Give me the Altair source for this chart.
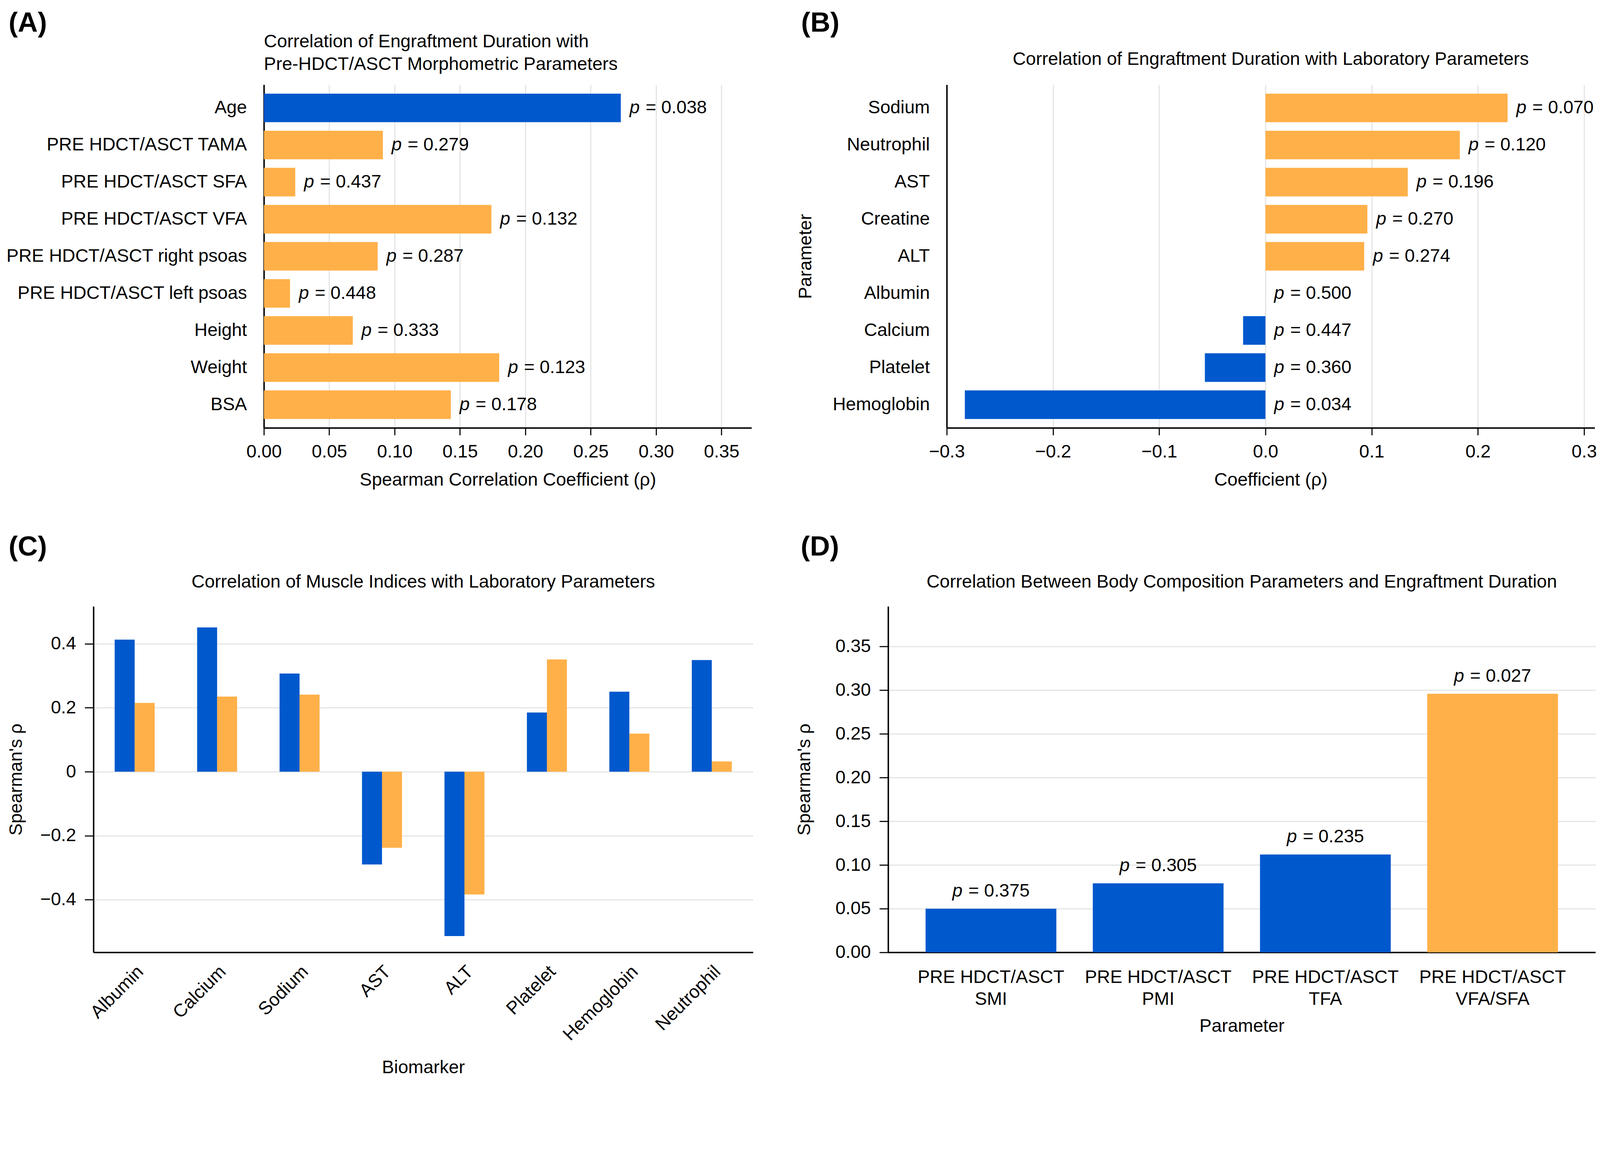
import altair as alt
import pandas as pd

FONT = "Liberation Sans"
BLUE = "#0058CD"
ORANGE = "#FFB049"
GRID = "#E3E3E3"
FS = 50

# ---------------- data ----------------
a_params = ["Age", "PRE HDCT/ASCT TAMA", "PRE HDCT/ASCT SFA", "PRE HDCT/ASCT VFA",
            "PRE HDCT/ASCT right psoas", "PRE HDCT/ASCT left psoas", "Height", "Weight", "BSA"]
a_rho = [0.273, 0.091, 0.024, 0.174, 0.087, 0.020, 0.068, 0.180, 0.143]
a_p = [0.038, 0.279, 0.437, 0.132, 0.287, 0.448, 0.333, 0.123, 0.178]

b_params = ["Sodium", "Neutrophil", "AST", "Creatine", "ALT", "Albumin", "Calcium", "Platelet", "Hemoglobin"]
b_rho = [0.228, 0.183, 0.134, 0.096, 0.093, 0.0, -0.021, -0.057, -0.283]
b_p = [0.070, 0.120, 0.196, 0.270, 0.274, 0.500, 0.447, 0.360, 0.034]

c_markers = ["Albumin", "Calcium", "Sodium", "AST", "ALT", "Platelet", "Hemoglobin", "Neutrophil"]
c_series = ["SMI", "PMI"]
c_smi = [0.413, 0.451, 0.307, -0.290, -0.514, 0.185, 0.250, 0.349]
c_pmi = [0.215, 0.235, 0.241, -0.238, -0.384, 0.351, 0.119, 0.032]

d_params = ["PRE HDCT/ASCT SMI", "PRE HDCT/ASCT PMI", "PRE HDCT/ASCT TFA", "PRE HDCT/ASCT VFA/SFA"]
d_rho = [0.050, 0.079, 0.112, 0.296]
d_p = [0.375, 0.305, 0.235, 0.027]

a_ticks = [0.0, 0.05, 0.10, 0.15, 0.20, 0.25, 0.30, 0.35]
b_ticks = [-0.3, -0.2, -0.1, 0.0, 0.1, 0.2, 0.3]
c_ticks = [-0.4, -0.2, 0.0, 0.2, 0.4]
d_ticks = [0.0, 0.05, 0.10, 0.15, 0.20, 0.25, 0.30, 0.35]

# ---------------- helpers ----------------
TXT = dict(labelFont=FONT, labelFontSize=FS, labelColor="black",
           titleFont=FONT, titleFontSize=FS, titleFontWeight="normal", titleColor="black",
           labelLimit=1500, labelOverlap=False, labelFlush=False, maxExtent=1500)


def text_at(txt, x, y, size=FS, weight="normal", align="left", baseline="middle"):
    return alt.Chart(pd.DataFrame({"t": [txt]})).mark_text(
        font=FONT, fontSize=size, fontWeight=weight, align=align, baseline=baseline, color="black"
    ).encode(text="t:N", x=alt.value(x), y=alt.value(y))


def q_axis_bottom(values, fmt, title_pad=27):
    return alt.Axis(values=values, format=fmt, grid=True, gridColor=GRID, gridWidth=3,
                    domainColor="black", domainWidth=4, ticks=True, tickColor="black",
                    tickWidth=3, tickSize=20, labelPadding=21, titlePadding=title_pad, **TXT)


def cat_axis_left(shift, title_pad=49):
    return alt.Axis(grid=False, domainColor="black", domainWidth=4, ticks=False, tickSize=0,
                    labelPadding=47, titlePadding=title_pad, offset=-shift, **TXT)


def hbar_panel(params, rho, p, domain, ticks, fmt, xtitle, ytitle, color_expr, x0, x1):
    # x0/x1: pixel range of the value axis inside the panel (the panel shares its left edge
    # with the panel below it; the value axis starts further right)
    df = pd.DataFrame({"param": params, "rho": rho, "p": p})
    base = alt.Chart(df).transform_calculate(
        grp=color_expr,
        ptxt="'= ' + format(datum.p, '.3f')",
        xl="max(datum.rho, 0)",
    )
    yenc = alt.Y("param:N", sort=params, title=ytitle,
                 scale=alt.Scale(paddingInner=0.23, paddingOuter=0.24),
                 axis=cat_axis_left(x0))
    xscale = alt.Scale(domain=domain, nice=False, range=[x0, x1])
    xaxis = q_axis_bottom(ticks, fmt)
    bars = base.mark_bar().encode(
        y=yenc,
        x=alt.X("rho:Q", title=xtitle, scale=xscale, axis=xaxis),
        color=alt.Color("grp:N", scale=alt.Scale(domain=["blue", "orange"], range=[BLUE, ORANGE]),
                        legend=None),
    )
    p1 = base.mark_text(font=FONT, fontSize=FS, fontStyle="italic", align="left",
                        baseline="middle", dx=24, color="black").encode(
        y=yenc, x=alt.X("xl:Q", title=xtitle, scale=xscale, axis=xaxis), text=alt.value("p"))
    p2 = base.mark_text(font=FONT, fontSize=FS, align="left",
                        baseline="middle", dx=68, color="black").encode(
        y=yenc, x=alt.X("xl:Q", title=xtitle, scale=xscale, axis=xaxis), text="ptxt:N")
    return bars, p1, p2


# ---------------- panel A ----------------
A_W, A_H = 1811, 942
A_X0, A_X1 = 468, 1807
barsA, p1A, p2A = hbar_panel(a_params, a_rho, a_p, [0, 0.373], a_ticks, ".2f",
                             "Spearman Correlation Coefficient (ρ)", None,
                             "datum.p < 0.05 ? 'blue' : 'orange'", A_X0, A_X1)
panelA = alt.layer(
    barsA, p1A, p2A,
    text_at("(A)", -233, -169, size=76, weight="bold"),
    text_at("Correlation of Engraftment Duration with", A_X0, -118),
    text_at("Pre-HDCT/ASCT Morphometric Parameters", A_X0, -56),
).properties(width=A_W, height=A_H)

# ---------------- panel B ----------------
B_W, B_H = 1941, 942
B_X0, B_X1 = 160, 1939
barsB, p1B, p2B = hbar_panel(b_params, b_rho, b_p, [-0.3, 0.31], b_ticks, ".1f",
                             "Coefficient (ρ)", "Parameter",
                             "datum.rho < 0 ? 'blue' : 'orange'", B_X0, B_X1)
panelB = alt.layer(
    barsB, p1B, p2B,
    text_at("(B)", -240, -169, size=76, weight="bold"),
    text_at("Correlation of Engraftment Duration with Laboratory Parameters", (B_X0 + B_X1) / 2, -70,
            align="center"),
).properties(width=B_W, height=B_H)

# ---------------- panel C ----------------
C_W, C_H = 1811, 950
dfC = pd.DataFrame({
    "marker": c_markers * 2,
    "series": [c_series[0]] * len(c_markers) + [c_series[1]] * len(c_markers),
    "rho": c_smi + c_pmi,
})
barsC = alt.Chart(dfC).mark_bar().encode(
    x=alt.X("marker:N", sort=c_markers, title="Biomarker",
            scale=alt.Scale(paddingInner=0.515, paddingOuter=0.2575),
            axis=alt.Axis(labelAngle=315, labelAlign="right", labelBaseline="middle",
                          labelOffset=16, ticks=False, tickSize=0, labelPadding=45,
                          domainColor="black", domainWidth=4, grid=False, titlePadding=40, **TXT)),
    xOffset=alt.XOffset("series:N", sort=c_series,
                        scale=alt.Scale(paddingInner=0, paddingOuter=0)),
    y=alt.Y("rho:Q", title="Spearman's ρ", scale=alt.Scale(domain=[-0.565, 0.517], nice=False),
            axis=alt.Axis(values=c_ticks,
                          labelExpr="datum.value == 0 ? '0' : format(datum.value, '.1f')",
                          grid=True, gridColor=GRID, gridWidth=3, domainColor="black",
                          domainWidth=4, ticks=True, tickColor="black", tickWidth=3, tickSize=24,
                          labelPadding=24, titlePadding=40, **TXT)),
    color=alt.Color("series:N", scale=alt.Scale(domain=c_series, range=[BLUE, ORANGE]), legend=None),
)
panelC = alt.layer(
    barsC,
    text_at("(C)", -233, -162, size=76, weight="bold"),
    text_at("Correlation of Muscle Indices with Laboratory Parameters", C_W / 2, -67, align="center"),
).properties(width=C_W, height=C_H)

# ---------------- panel D ----------------
D_W, D_H = 1942, 950
dfD = pd.DataFrame({"param": d_params, "rho": d_rho, "p": d_p})
baseD = alt.Chart(dfD).transform_calculate(
    grp="datum.p < 0.05 ? 'orange' : 'blue'",
    ptxt="'= ' + format(datum.p, '.3f')",
)
xD = alt.X("param:N", sort=d_params, title="Parameter",
           scale=alt.Scale(paddingInner=0.218, paddingOuter=0.224),
           axis=alt.Axis(labelExpr="[slice(datum.label, 0, 13), slice(datum.label, 14)]",
                         labelAngle=0, labelAlign="center", labelBaseline="top",
                         labelLineHeight=61, ticks=False, tickSize=0, labelPadding=43,
                         domainColor="black", domainWidth=4, grid=False, titlePadding=23, **TXT))
yD = alt.Y("rho:Q", title="Spearman's ρ", scale=alt.Scale(domain=[0, 0.396], nice=False),
           axis=alt.Axis(values=d_ticks, format=".2f", grid=True, gridColor=GRID, gridWidth=3,
                         domainColor="black", domainWidth=4, ticks=True, tickColor="black",
                         tickWidth=3, tickSize=24, labelPadding=24, titlePadding=59, **TXT))
barsD = baseD.mark_bar().encode(
    x=xD, y=yD,
    color=alt.Color("grp:N", scale=alt.Scale(domain=["blue", "orange"], range=[BLUE, ORANGE]),
                    legend=None),
)
p1D = baseD.mark_text(font=FONT, fontSize=FS, fontStyle="italic", align="left",
                      baseline="alphabetic", dx=-106, dy=-33, color="black").encode(
    x=xD, y=yD, text=alt.value("p"))
p2D = baseD.mark_text(font=FONT, fontSize=FS, align="left",
                      baseline="alphabetic", dx=-62, dy=-33, color="black").encode(
    x=xD, y=yD, text="ptxt:N")
panelD = alt.layer(
    barsD, p1D, p2D,
    text_at("(D)", -240, -162, size=76, weight="bold"),
    text_at("Correlation Between Body Composition Parameters and Engraftment Duration", D_W / 2, -67,
            align="center"),
).properties(width=D_W, height=D_H)

# ---------------- layout ----------------
row1 = alt.hconcat(panelA, panelB, spacing=119)
row2 = alt.hconcat(panelC, panelD, spacing=116)
chart = alt.vconcat(row1, row2, spacing=122).properties(
    padding={"left": 7, "top": -83, "right": 0, "bottom": -90},
    background="white",
).configure(font=FONT, view=alt.ViewConfig(stroke=None))

chart.save("out.html", embed_options={"renderer": "svg", "actions": False})
